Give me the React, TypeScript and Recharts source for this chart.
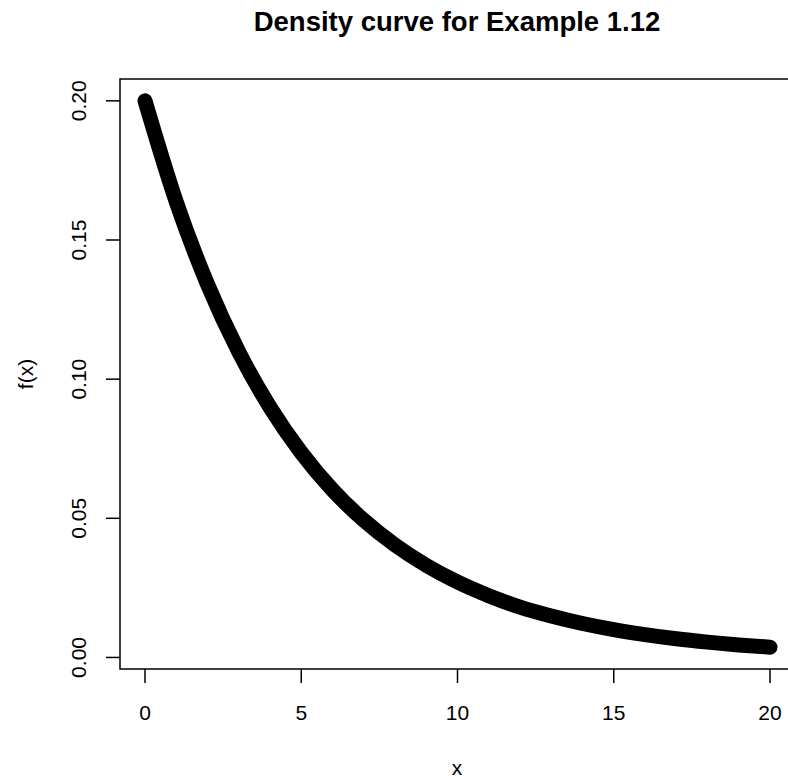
import { LineChart, Line, XAxis, YAxis, ReferenceArea } from 'recharts'

// values
const xs = [0, 1, 2, 3, 4, 5, 6, 7, 8, 9, 10, 11, 12, 13, 14, 15, 16, 17, 18, 19, 20]
const fx = [
  0.2, 0.1637, 0.1341, 0.1098, 0.0899, 0.0736, 0.0602, 0.0493, 0.0404, 0.0331, 0.0271,
  0.0222, 0.0181, 0.0149, 0.0122, 0.01, 0.0082, 0.0067, 0.0055, 0.0045, 0.0037,
]
const xTicks = [0, 5, 10, 15, 20]
const yTicks = [0, 0.05, 0.1, 0.15, 0.2]
const xDomain = [-0.8, 20.8]
const yDomain = [-0.00415, 0.20785]

const data = xs.map((x, i) => ({ x, y: fx[i] }))

const font = '"Liberation Sans", Arial, sans-serif'

const XTick = (props: any) => {
  const { x, y, payload } = props
  return (
    <text x={x} y={y} dy={35} textAnchor="middle" fontSize={21} fontFamily={font} fill="#000">
      {payload.value}
    </text>
  )
}

const YTick = (props: any) => {
  const { y, payload } = props
  const tx = 86
  return (
    <text
      x={tx}
      y={y}
      textAnchor="middle"
      fontSize={21}
      fontFamily={font}
      fill="#000"
      transform={`rotate(-90, ${tx}, ${y})`}
    >
      {Number(payload.value).toFixed(2)}
    </text>
  )
}

export default function App() {
  // the plot box runs a few pixels past the right edge, as in the original
  return (
    <div
      style={{
        position: 'absolute',
        left: 0,
        top: 0,
        width: 788,
        height: 781,
        overflow: 'hidden',
        background: '#fff',
      }}
    >
      <LineChart
        width={795}
        height={781}
        data={data}
        margin={{ top: 79, right: 0, left: 0, bottom: 0 }}
      >
        <XAxis
          dataKey="x"
          type="number"
          domain={xDomain}
          ticks={xTicks}
          height={112}
          tickSize={14}
          tickMargin={2}
          axisLine={false}
          tickLine={{ stroke: '#000', strokeWidth: 1.5 }}
          tick={<XTick />}
          allowDataOverflow
        />
        <YAxis
          type="number"
          domain={yDomain}
          ticks={yTicks}
          width={120}
          tickSize={14}
          tickMargin={2}
          axisLine={false}
          tickLine={{ stroke: '#000', strokeWidth: 1.5 }}
          tick={<YTick />}
          allowDataOverflow
        />
        <ReferenceArea
          x1={xDomain[0]}
          x2={xDomain[1]}
          y1={yDomain[0]}
          y2={yDomain[1]}
          fill="none"
          fillOpacity={0}
          stroke="#000"
          strokeWidth={1.5}
        />
        <Line
          dataKey="y"
          type="monotone"
          stroke="#000"
          strokeWidth={15}
          strokeLinecap="round"
          strokeLinejoin="round"
          dot={false}
          isAnimationActive={false}
        />
      </LineChart>
      <svg
        width={788}
        height={781}
        style={{ position: 'absolute', left: 0, top: 0, pointerEvents: 'none' }}
      >
        <text x={457} y={31} textAnchor="middle" fontSize={27.5} fontWeight="bold" fontFamily={font} fill="#000">
          Density curve for Example 1.12
        </text>
        <text x={457} y={775} textAnchor="middle" fontSize={21} fontFamily={font} fill="#000">
          x
        </text>
        <text
          x={33}
          y={374}
          textAnchor="middle"
          fontSize={21}
          fontFamily={font}
          fill="#000"
          transform="rotate(-90, 33, 374)"
        >
          f(x)
        </text>
      </svg>
    </div>
  )
}
